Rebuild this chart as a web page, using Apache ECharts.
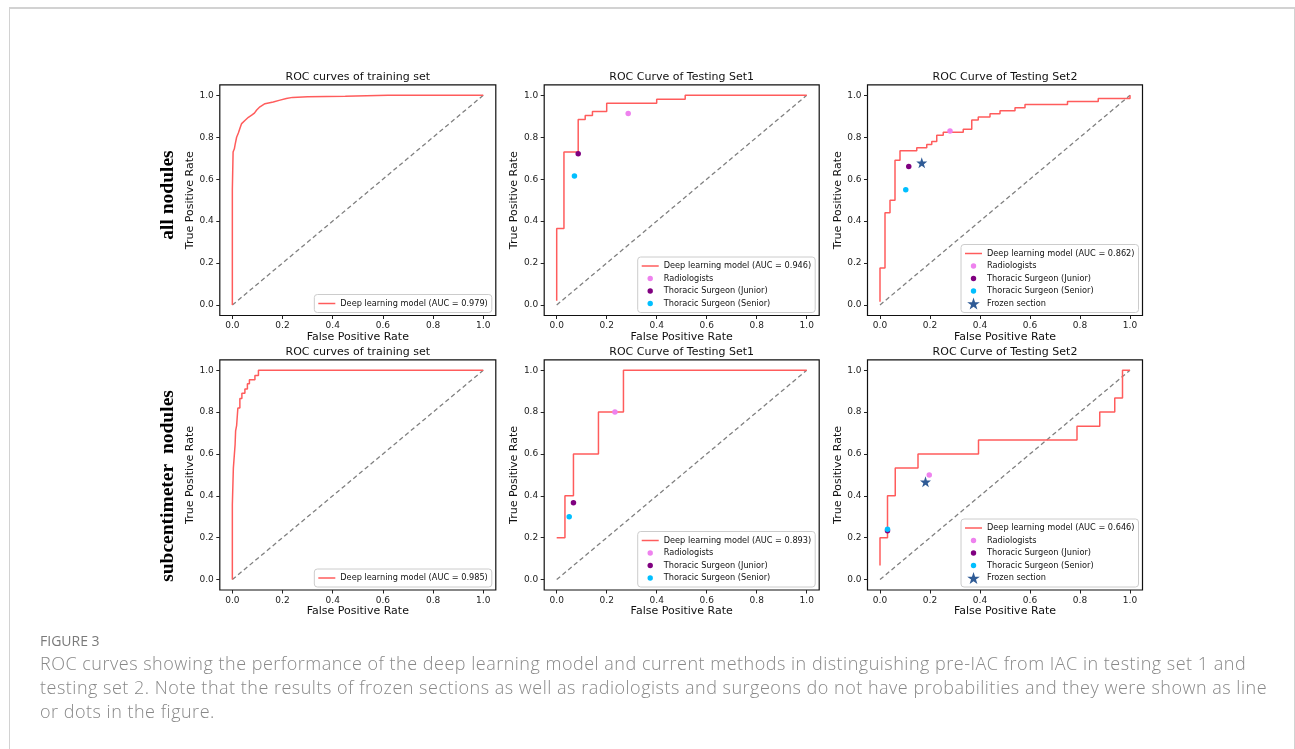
<!DOCTYPE html>
<html>
<head>
<meta charset="utf-8">
<title>ROC curves</title>
<script src="https://cdn.jsdelivr.net/npm/echarts@6/dist/echarts.min.js"></script>
<style>
  html, body { margin: 0; padding: 0; background: #fff; }
  #frame { position: absolute; left: 9px; top: 7px; width: 1284px; height: 780px; border: 1px solid #d2d2d2; border-top-width: 2px; border-bottom: none; }
  #chart { position: absolute; left: 0; top: 0; width: 1295px; height: 749px; }
  .fig { position: absolute; left: 40px; font-family: "Open Sans", sans-serif; color: #7a7a7a; }
</style>
</head>
<body>
<div id="frame"></div>
<div id="chart"></div>
<div class="fig" style="top:631px;font-size:14px;">FIGURE 3</div>
<div class="fig" style="top:651px;font-size:18px;letter-spacing:0.5px;line-height:24px;font-weight:300;color:#888;white-space:nowrap;">ROC curves showing the performance of the deep learning model and current methods in distinguishing pre-IAC from IAC in testing set 1 and<br>testing set 2. Note that the results of frozen sections as well as radiologists and surgeons do not have probabilities and they were shown as line<br>or dots in the figure.</div>
<script>
// ---- data ----
const tickValues = [0, 0.2, 0.4, 0.6, 0.8, 1.0];
const expertNames = ['Radiologists', 'Thoracic Surgeon (Junior)', 'Thoracic Surgeon (Senior)', 'Frozen section'];
const rowLabels = ['all nodules', 'subcentimeter  nodules'];
const panelTitles = ['ROC curves of training set', 'ROC Curve of Testing Set1', 'ROC Curve of Testing Set2',
                     'ROC curves of training set', 'ROC Curve of Testing Set1', 'ROC Curve of Testing Set2'];
const aucValues = ['0.979', '0.946', '0.862', '0.985', '0.893', '0.646'];

// all nodules - training
const trainAllFpr = [0, 0, 0.003, 0.008, 0.011, 0.017, 0.024, 0.031, 0.037, 0.05, 0.064, 0.077, 0.088, 0.097, 0.11, 0.13, 0.163, 0.19, 0.215, 0.24, 0.3, 0.45, 0.62, 1];
const trainAllTpr = [0, 0.55, 0.73, 0.745, 0.765, 0.8, 0.82, 0.845, 0.865, 0.88, 0.895, 0.905, 0.915, 0.93, 0.945, 0.96, 0.968, 0.977, 0.985, 0.99, 0.993, 0.995, 1, 1];
// all nodules - testing set 1
const test1AllFpr = [0, 0, 0.029, 0.029, 0.086, 0.086, 0.114, 0.114, 0.143, 0.143, 0.2, 0.2, 0.4, 0.4, 0.514, 0.514, 1];
const test1AllTpr = [0.02, 0.365, 0.365, 0.73, 0.73, 0.885, 0.885, 0.904, 0.904, 0.923, 0.923, 0.962, 0.962, 0.981, 0.981, 1, 1];
const test1AllExperts = [[0.286, 0.913], [0.086, 0.721], [0.071, 0.615]];
// all nodules - testing set 2
const test2AllFpr = [0, 0, 0.02, 0.02, 0.04, 0.04, 0.06, 0.06, 0.08, 0.08, 0.147, 0.147, 0.187, 0.187, 0.207, 0.207, 0.227, 0.227, 0.253, 0.253,
                     0.333, 0.333, 0.367, 0.367, 0.393, 0.393, 0.44, 0.44, 0.48, 0.48, 0.54, 0.54, 0.58, 0.58, 0.75, 0.75, 0.873, 0.873, 1, 1];
const test2AllTpr = [0.015, 0.176, 0.176, 0.44, 0.44, 0.5, 0.5, 0.69, 0.69, 0.735, 0.735, 0.75, 0.75, 0.765, 0.765, 0.78, 0.78, 0.81, 0.81, 0.824,
                     0.824, 0.838, 0.838, 0.882, 0.882, 0.897, 0.897, 0.912, 0.912, 0.926, 0.926, 0.941, 0.941, 0.956, 0.956, 0.97, 0.97, 0.985, 0.985, 1];
const test2AllExperts = [[0.28, 0.83], [0.115, 0.66], [0.103, 0.55], [0.167, 0.678]];
// subcentimeter - training
const trainSubFpr = [0, 0, 0.004, 0.004, 0.011, 0.011, 0.013, 0.013, 0.017, 0.017, 0.022, 0.022, 0.03, 0.03, 0.038, 0.038, 0.05, 0.05, 0.06, 0.06, 0.068, 0.068, 0.09, 0.09, 0.104, 0.104, 1];
const trainSubTpr = [0, 0.356, 0.356, 0.531, 0.531, 0.645, 0.645, 0.71, 0.71, 0.735, 0.735, 0.82, 0.82, 0.865, 0.865, 0.89, 0.89, 0.91, 0.91, 0.935, 0.935, 0.955, 0.955, 0.975, 0.975, 1, 1];
// subcentimeter - testing set 1
const test1SubFpr = [0, 0.033, 0.033, 0.067, 0.067, 0.167, 0.167, 0.267, 0.267, 1];
const test1SubTpr = [0.2, 0.2, 0.4, 0.4, 0.6, 0.6, 0.8, 0.8, 1, 1];
const test1SubExperts = [[0.233, 0.8], [0.067, 0.367], [0.05, 0.3]];
// subcentimeter - testing set 2
const test2SubFpr = [0, 0, 0.03, 0.03, 0.061, 0.061, 0.152, 0.152, 0.394, 0.394, 0.788, 0.788, 0.879, 0.879, 0.939, 0.939, 0.97, 0.97, 1];
const test2SubTpr = [0.067, 0.2, 0.2, 0.4, 0.4, 0.533, 0.533, 0.6, 0.6, 0.667, 0.667, 0.733, 0.733, 0.8, 0.8, 0.867, 0.867, 1, 1];
const test2SubExperts = [[0.197, 0.5], [0.03, 0.233], [0.03, 0.24], [0.182, 0.467]];

// ---- layout ----
const font = 'DejaVu Sans';
const colLeft = [219.8, 544.2, 867.5];
const colWidth = [276, 275, 275];
const rowTop = [84.8, 359.8];
const rowHeight = [230.7, 230.2];
const rocColor = '#ff5c5c';
const expertColors = ['#ee82ee', '#800080', '#00bfff', '#2f5b96'];
const starPath = 'path://M50,0 L61.8,35.1 L97.6,35.1 L68.8,56.7 L79.4,90.9 L50,70 L20.6,90.9 L31.2,56.7 L2.4,35.1 L38.2,35.1 Z';
// legend icons padded to the 17x12 item box
const dotIcon = 'path://M0 0M12 12M8.7 6A2.7 2.7 0 1 1 3.3 6A2.7 2.7 0 1 1 8.7 6Z';
const lineIcon = 'path://M0 0M17 12M0 5.25H17V6.75H0Z';

const panels = [
  { fpr: trainAllFpr, tpr: trainAllTpr, experts: [] },
  { fpr: test1AllFpr, tpr: test1AllTpr, experts: test1AllExperts },
  { fpr: test2AllFpr, tpr: test2AllTpr, experts: test2AllExperts },
  { fpr: trainSubFpr, tpr: trainSubTpr, experts: [] },
  { fpr: test1SubFpr, tpr: test1SubTpr, experts: test1SubExperts },
  { fpr: test2SubFpr, tpr: test2SubTpr, experts: test2SubExperts }
];

const grids = [], xAxes = [], yAxes = [], series = [], legends = [], graphics = [];

panels.forEach(function (p, i) {
  const col = i % 3, row = Math.floor(i / 3);
  const left = colLeft[col], top = rowTop[row], w = colWidth[col], h = rowHeight[row];
  grids.push({ left: left, top: top, width: w, height: h, show: true, borderColor: '#111', borderWidth: 1.2 });

  const axisCommon = {
    gridIndex: i, type: 'value', min: -0.05, max: 1.05,
    axisLine: { show: false, onZero: false },
    axisTick: { show: true, customValues: tickValues, length: 3.5, lineStyle: { color: '#222', width: 1 } },
    axisLabel: { customValues: tickValues, formatter: function (v) { return v.toFixed(1); }, fontSize: 9, color: '#222', fontFamily: font, margin: 6 },
    splitLine: { show: false },
    nameLocation: 'middle',
    nameTextStyle: { fontSize: 11, color: '#111', fontFamily: font }
  };
  xAxes.push(Object.assign({}, axisCommon, { name: 'False Positive Rate', nameGap: 13 }));
  yAxes.push(Object.assign({}, axisCommon, { name: 'True Positive Rate', nameGap: 17 }));

  // chance diagonal
  series.push({
    type: 'line', xAxisIndex: i, yAxisIndex: i, data: [[0, 0], [1, 1]], symbol: 'none', silent: true, z: 1,
    lineStyle: { color: '#808080', width: 1.3, type: [4.5, 3] }
  });
  const lineName = 'Deep learning model (AUC = ' + aucValues[i] + ')';
  series.push({
    name: lineName, type: 'line', xAxisIndex: i, yAxisIndex: i, symbol: 'none', z: 2,
    data: p.fpr.map(function (x, k) { return [x, p.tpr[k]]; }),
    lineStyle: { color: rocColor, width: 1.5 }, itemStyle: { color: rocColor }
  });
  const legendData = [{ name: lineName, icon: lineIcon, itemStyle: { color: rocColor } }];
  p.experts.forEach(function (pt, k) {
    const isStar = k === 3;
    series.push({
      name: expertNames[k], type: 'scatter', xAxisIndex: i, yAxisIndex: i, z: 3,
      symbol: isStar ? starPath : 'circle', symbolSize: isStar ? 11 : 5.5,
      itemStyle: { color: expertColors[k], opacity: 1 }, data: [pt]
    });
    legendData.push({ name: expertNames[k], icon: isStar ? starPath : dotIcon });
  });

  legends.push({
    orient: 'vertical', right: 1295 - (left + w - 4), bottom: 749 - (top + h - 3),
    padding: [3, 4, 3, 4], itemWidth: 17, itemHeight: 12, itemGap: 0.5,
    borderColor: '#cccccc', borderWidth: 1, borderRadius: 3, backgroundColor: 'rgba(255,255,255,0.85)',
    selectedMode: false, textStyle: { fontSize: 8.2, color: '#111', fontFamily: font },
    data: legendData
  });

  graphics.push({
    type: 'text', x: left + w / 2, y: top - 7.5,
    style: { text: panelTitles[i], fontSize: 11, fontFamily: font, fill: '#111', align: 'center', verticalAlign: 'middle' }
  });
});

rowLabels.forEach(function (t, r) {
  graphics.push({
    type: 'text', x: 168, y: r === 0 ? 195 : 486, rotation: Math.PI / 2,
    style: { text: t, fontSize: 19.5, fontWeight: 'bold', fontFamily: 'Liberation Serif', fill: '#000', align: 'center', verticalAlign: 'middle' }
  });
});

const myChart = echarts.init(document.getElementById('chart'));
myChart.setOption({
  animation: false,
  grid: grids,
  xAxis: xAxes,
  yAxis: yAxes,
  legend: legends,
  graphic: graphics,
  series: series
});
</script>
</body>
</html>
